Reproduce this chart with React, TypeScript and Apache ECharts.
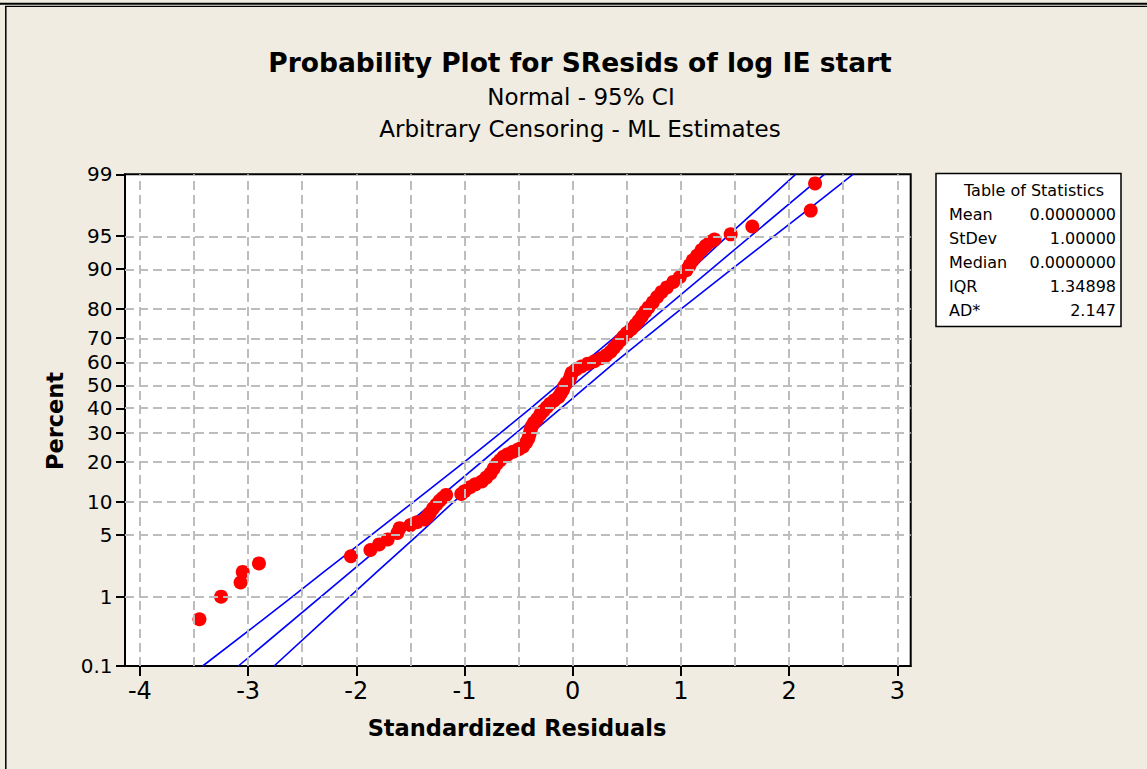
import React, { useEffect, useRef } from 'react';
import * as echarts from 'echarts';

// ---------- data ----------
const yTickPercents = [0.1, 1, 5, 10, 20, 30, 40, 50, 60, 70, 80, 90, 95, 99];
const xTickValues = [-4, -3, -2, -1, 0, 1, 2, 3];
const xGridValues = [-4, -3.5, -3, -2.5, -2, -1.5, -1, -0.5, 0, 0.5, 1, 1.5, 2, 2.5, 3];

const residuals = [
  -3.45, -3.25, -3.07, -3.05, -2.9, -2.05, -1.87, -1.79, -1.71,
  -1.62, -1.6, -1.5, -1.44, -1.37, -1.34, -1.32, -1.29, -1.26, -1.23, -1.2, -1.17,
  -1.03, -1.0, -0.95, -0.9, -0.84, -0.8, -0.76, -0.73, -0.7, -0.67, -0.64, -0.6, -0.55, -0.5, -0.46, -0.43,
  -0.41, -0.4, -0.39, -0.38, -0.36, -0.33, -0.3, -0.27, -0.24, -0.21, -0.17, -0.13, -0.11, -0.09, -0.08,
  -0.06, -0.03, -0.02, -0.01, 0.03, 0.08, 0.14, 0.2, 0.26, 0.31, 0.35, 0.38, 0.41, 0.44, 0.47, 0.5, 0.54,
  0.58, 0.61, 0.64, 0.67, 0.7, 0.74, 0.78, 0.82, 0.87, 0.93, 0.99, 1.05, 1.08, 1.11, 1.15, 1.19, 1.23,
  1.27, 1.31, 1.46, 1.66, 2.2, 2.24,
];
const percents = [
  0.5, 1.0, 1.5, 2.0, 2.5, 3.0, 3.5, 4.0, 4.5,
  5.2, 5.8, 6.2, 6.6, 7.0, 7.5, 8.0, 8.8, 9.5, 10.2, 10.8, 11.4,
  11.6, 12.2, 13.1, 13.8, 14.5, 15.5, 16.6, 18.0, 19.5, 20.5, 21.6, 22.4, 23.3, 24.1, 25.0, 26.5,
  28.0, 29.5, 31.0, 32.5, 34.0, 35.5, 37.5, 39.0, 40.5, 42.0, 43.5, 45.0, 46.5, 48.0, 49.5,
  51.0, 52.5, 54.0, 55.5, 57.0, 58.3, 59.5, 60.5, 61.8, 63.0, 64.5, 66.0, 67.5, 69.0, 70.5, 71.8, 73.2,
  74.8, 76.2, 77.7, 79.2, 80.5, 82.0, 83.5, 84.8, 86.0, 87.3, 88.4, 89.8, 90.7, 91.6, 92.4, 93.2, 93.8,
  94.3, 94.6, 95.2, 96.0, 97.3, 98.7,
];

const fitX = [-3.09, 2.326];
const fitPercents = [0.1, 99];

const bandPercents = [0.1, 0.5, 1, 2, 5, 10, 20, 30, 40, 50, 60, 70, 80, 90, 95, 98, 99];
const lowerBandX = [-3.42, -2.86, -2.59, -2.3, -1.86, -1.47, -1.0, -0.67, -0.39, -0.14, 0.11, 0.38, 0.68, 1.1, 1.43, 1.81, 2.06];
const upperBandX = [-2.76, -2.29, -2.06, -1.81, -1.43, -1.1, -0.68, -0.38, -0.11, 0.14, 0.39, 0.67, 1.0, 1.47, 1.86, 2.3, 2.59];

const statsLabels = ['Mean', 'StDev', 'Median', 'IQR', 'AD*'];
const statsValues = ['0.0000000', '1.00000', '0.0000000', '1.34898', '2.147'];

// ---------- probability scale (inverse normal) ----------
function probit(p: number): number {
  const a = [-3.969683028665376e1, 2.209460984245205e2, -2.759285104469687e2, 1.38357751867269e2, -3.066479806614716e1, 2.506628277459239];
  const b = [-5.447609879822406e1, 1.615858368580409e2, -1.556989798598866e2, 6.680131188771972e1, -1.328068155288572e1];
  const c = [-7.784894002430293e-3, -3.223964580411365e-1, -2.400758277161838, -2.549671664969643, 4.374664141464968, 2.938163982698783];
  const d = [7.784695709041462e-3, 3.224671290700398e-1, 2.445134137142996, 3.754408661907416];
  const plow = 0.02425;
  if (p < plow) {
    const q = Math.sqrt(-2 * Math.log(p));
    return (((((c[0] * q + c[1]) * q + c[2]) * q + c[3]) * q + c[4]) * q + c[5]) / ((((d[0] * q + d[1]) * q + d[2]) * q + d[3]) * q + 1);
  }
  if (p <= 1 - plow) {
    const q = p - 0.5;
    const r = q * q;
    return ((((((a[0] * r + a[1]) * r + a[2]) * r + a[3]) * r + a[4]) * r + a[5]) * q) / (((((b[0] * r + b[1]) * r + b[2]) * r + b[3]) * r + b[4]) * r + 1);
  }
  const q = Math.sqrt(-2 * Math.log(1 - p));
  return -(((((c[0] * q + c[1]) * q + c[2]) * q + c[3]) * q + c[4]) * q + c[5]) / ((((d[0] * q + d[1]) * q + d[2]) * q + d[3]) * q + 1);
}
const pz = (percent: number) => probit(percent / 100);

const BG = '#F0ECE2';
const FONT = 'DejaVu Sans';
const X_MIN = -4.138;
const X_MAX = 3.124;

export default function App() {
  const ref = useRef<HTMLDivElement>(null);
  useEffect(() => {
    const chart = echarts.init(ref.current!, null, { renderer: 'svg' });
    const yTickZ = yTickPercents.map(pz);
    const yMin = pz(0.1);
    const yMax = pz(99);
    const blue = '#0000FF';

    const gridMarks = [
      ...xGridValues.map((v) => ({ xAxis: v })),
      ...yTickZ.slice(1, -1).map((v) => ({ yAxis: v })),
    ];

    const statsGraphics: any[] = [
      {
        type: 'rect',
        shape: { x: 936, y: 173.5, width: 185, height: 153 },
        style: { fill: '#FFFFFF', stroke: '#000000', lineWidth: 1.5 },
      },
      {
        type: 'text',
        x: 1034,
        y: 190,
        style: { text: 'Table of Statistics', font: `16px "${FONT}"`, fill: '#000', textAlign: 'center', textVerticalAlign: 'middle' },
      },
    ];
    statsLabels.forEach((lab, i) => {
      statsGraphics.push({
        type: 'text',
        x: 949,
        y: 214 + i * 24,
        style: { text: lab, font: `16px "${FONT}"`, fill: '#000', textAlign: 'left', textVerticalAlign: 'middle' },
      });
      statsGraphics.push({
        type: 'text',
        x: 1116,
        y: 214 + i * 24,
        style: { text: statsValues[i], font: `16px "${FONT}"`, fill: '#000', textAlign: 'right', textVerticalAlign: 'middle' },
      });
    });

    chart.setOption({
      animation: false,
      backgroundColor: BG,
      grid: {
        left: 125,
        top: 174.3,
        width: 785.7,
        height: 491.7,
        show: true,
        backgroundColor: '#FFFFFF',
        borderColor: '#000000',
        borderWidth: 2,
        containLabel: false,
      },
      xAxis: {
        type: 'value',
        min: X_MIN,
        max: X_MAX,
        axisLine: { show: true, onZero: false, lineStyle: { color: '#000', width: 2 } },
        axisTick: { show: true, customValues: xTickValues, length: 10, lineStyle: { color: '#000', width: 2 } },
        axisLabel: { show: true, customValues: xTickValues, fontSize: 24, color: '#000', fontFamily: FONT, margin: 13 },
        splitLine: { show: false },
      },
      yAxis: {
        type: 'value',
        min: yMin,
        max: yMax,
        axisLine: { show: true, onZero: false, lineStyle: { color: '#000', width: 2 } },
        axisTick: { show: true, inside: false, customValues: yTickZ, length: 9, lineStyle: { color: '#000', width: 2 } },
        axisLabel: { show: false, customValues: yTickZ },
        splitLine: { show: false },
      },
      series: [
        {
          type: 'line',
          name: 'grid',
          data: [[-4, yMin]],
          symbol: 'none',
          silent: true,
          z: 1,
          markLine: {
            silent: true,
            symbol: ['none', 'none'],
            label: { show: false },
            lineStyle: { color: '#BDBDBD', width: 2, type: [9, 5] },
            emphasis: { disabled: true },
            data: gridMarks,
          },
        },
        {
          type: 'line',
          name: 'lower',
          data: lowerBandX.map((x, i) => [x, pz(bandPercents[i])]),
          symbol: 'none',
          lineStyle: { color: blue, width: 1.6 },
          z: 2,
        },
        {
          type: 'line',
          name: 'fit',
          data: fitX.map((x, i) => [x, pz(fitPercents[i])]),
          symbol: 'none',
          lineStyle: { color: blue, width: 1.6 },
          z: 2,
        },
        {
          type: 'line',
          name: 'upper',
          data: upperBandX.map((x, i) => [x, pz(bandPercents[i])]),
          symbol: 'none',
          lineStyle: { color: blue, width: 1.6 },
          z: 2,
        },
        {
          type: 'scatter',
          name: 'SResids',
          data: residuals.map((x, i) => [x, pz(percents[i])]),
          symbol: 'circle',
          symbolSize: 14,
          itemStyle: { color: '#FF0000', opacity: 1 },
          z: 3,
        },
        {
          // y-axis tick labels (percent), anchored on the axis scale
          type: 'scatter',
          name: 'yLabels',
          data: yTickZ.map((z) => [X_MIN, z]),
          symbol: 'circle',
          symbolSize: 1,
          silent: true,
          clip: false,
          z: 4,
          itemStyle: { color: 'rgba(0,0,0,0)' },
          label: {
            show: true,
            position: 'left',
            distance: 12,
            fontSize: 20,
            fontFamily: FONT,
            color: '#000000',
            opacity: 1,
            formatter: (p: any) => String(yTickPercents[p.dataIndex]),
          },
          emphasis: { disabled: true },
        },
      ],
      graphic: [
        { type: 'line', shape: { x1: 0, y1: 3.8, x2: 1147, y2: 3.8 }, style: { stroke: '#000', lineWidth: 2 } },
        { type: 'line', shape: { x1: 5, y1: 6.3, x2: 1147, y2: 6.3 }, style: { stroke: '#000', lineWidth: 1.2 } },
        { type: 'line', shape: { x1: 5.8, y1: 6, x2: 5.8, y2: 769 }, style: { stroke: '#000', lineWidth: 1.5 } },
        {
          type: 'text',
          x: 580,
          y: 62,
          style: { text: 'Probability Plot for SResids of log IE start', font: `bold 26.5px "${FONT}"`, fill: '#000', textAlign: 'center', textVerticalAlign: 'middle' },
        },
        {
          type: 'text',
          x: 581,
          y: 97,
          style: { text: 'Normal - 95% CI', font: `23px "${FONT}"`, fill: '#000', textAlign: 'center', textVerticalAlign: 'middle' },
        },
        {
          type: 'text',
          x: 580,
          y: 129,
          style: { text: 'Arbitrary Censoring - ML Estimates', font: `23px "${FONT}"`, fill: '#000', textAlign: 'center', textVerticalAlign: 'middle' },
        },
        {
          type: 'text',
          x: 517,
          y: 728,
          style: { text: 'Standardized Residuals', font: `bold 22.5px "${FONT}"`, fill: '#000', textAlign: 'center', textVerticalAlign: 'middle' },
        },
        {
          type: 'text',
          x: 55,
          y: 421,
          rotation: Math.PI / 2,
          style: { text: 'Percent', font: `bold 22.5px "${FONT}"`, fill: '#000', textAlign: 'center', textVerticalAlign: 'middle' },
        },
        ...statsGraphics,
      ],
    });
    return () => chart.dispose();
  }, []);
  return <div ref={ref} style={{ position: 'fixed', left: 0, top: 0, width: 1147, height: 769, background: BG }} />;
}
